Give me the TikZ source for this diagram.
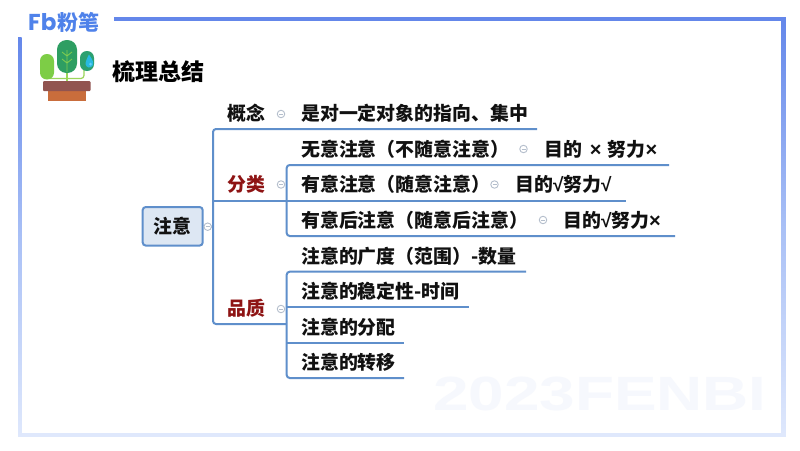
\documentclass[tikz,border=0pt]{standalone}
\usepackage{fontspec}
\setmainfont{Noto Sans CJK SC}
\newfontfamily\wm{Liberation Sans}
\newfontfamily\brand{Poppins}
\definecolor{linec}{HTML}{5F8FCB}
\definecolor{rootfill}{HTML}{DDE7F3}
\definecolor{brandblue}{HTML}{4F82EA}
\definecolor{darkred}{HTML}{8E1414}
\definecolor{ink}{HTML}{111111}
\definecolor{togc}{HTML}{B4BECC}
\definecolor{fa}{HTML}{6487EA}
\definecolor{fb}{HTML}{A9C0F6}
\definecolor{fc}{HTML}{DFE8FC}
\definecolor{wmc}{HTML}{F6F8FD}
\definecolor{stem}{HTML}{9BD65A}
\tikzset{
 x=1pt,y=-1pt,
 branch/.style={draw=linec,line width=2pt,rounded corners=3pt},
 lbl/.style={font=\fontsize{18.9}{20}\selectfont\bfseries,text=ink,anchor=west,inner sep=0pt},
 cat/.style={lbl,anchor=center},
 catred/.style={cat,text=darkred},
 tog/.style={circle,draw=togc,fill=white,line width=0.9pt,minimum size=7.5pt,inner sep=0pt},
 rootbox/.style={draw=linec,fill=rootfill,line width=2pt,rounded corners=3pt,minimum width=60pt,minimum height=38.5pt,
   font=\fontsize{18.9}{20}\selectfont\bfseries,text=ink,inner sep=0pt},
}
\newcommand{\togmark}[1]{\draw[togc,line width=0.7pt] ([xshift=-2pt]#1.center)--([xshift=2pt]#1.center);}
\newcommand{\ck}{{\wm\bfseries\fontsize{19}{19}\selectfont √}}
\newcommand{\xx}{{\wm\bfseries\fontsize{20}{20}\selectfont ×}}
\begin{document}
\begin{tikzpicture}
\useasboundingbox (0,0) rectangle (800,450);
\fill[white] (0,0) rectangle (800,450);
% watermark
\node[font=\wm\bfseries\fontsize{48}{48}\selectfont,text=wmc,inner sep=0pt,xscale=1.33,transform shape] (wmark) at (600,394) {2023FENBI};
% frame
\fill[fa] (114,17) rectangle (785.7,20.7);
\shade[top color=fa,bottom color=fc,middle color=fb] (781.7,17) rectangle (785.7,436.7);
\fill[fc] (18,433) rectangle (785.7,436.7);
\shade[top color=fa,bottom color=fc,middle color=fb] (18,37) rectangle (21.7,436.7);
% brand
\node[font=\brand\bfseries\fontsize{23}{23}\selectfont,text=brandblue,inner sep=0pt,anchor=west] (fbmark) at (28,22) {Fb};
\node[font=\fontsize{21}{21}\selectfont\bfseries,text=brandblue,inner sep=0pt,anchor=west] (fbname) at (57,22) {粉笔};
% plant
\draw[line width=1.2pt,draw=stem,rounded corners=3pt] (47,74) -- (47,78.5) -- (84,78.5) -- (84,70);
\draw[line width=1.2pt,draw=stem] (67,60) -- (67,82);
\fill[fill={rgb,255:red,46;green,158;blue,98},rounded corners=9.5pt] (57,40) rectangle (77,73);
\draw[line width=0.8pt,draw={rgb,255:red,130;green,205;blue,80}] (67,50) -- (67,72) (67,56) -- (62,52) (67,56) -- (72,52) (67,63) -- (62,59) (67,63) -- (72,59);
\fill[fill={rgb,255:red,125;green,205;blue,70},rounded corners=6.8pt] (40,54) rectangle (54,79.5);
\fill[fill={rgb,255:red,44;green,160;blue,112},rounded corners=6.8pt] (80,51) rectangle (94,71);
\fill[fill={rgb,255:red,40;green,185;blue,225}] (89,54.5) .. controls (92,59) and (94,62) .. (93,65) .. controls (91,69) and (86,68) .. (85.5,64) .. controls (85.5,62) and (87,58) .. (89,54.5) -- cycle;
\fill[white!40!cyan] (90.5,64) circle [radius=1.5pt];
\fill[fill={rgb,255:red,201;green,109;blue,60}] (47.5,91) rectangle (86,100.5);
\fill[fill={rgb,255:red,145;green,84;blue,80},rounded corners=1pt] (43,81) rectangle (90.5,91);
% title
\node[font=\fontsize{23}{25}\selectfont\bfseries,text=black,anchor=west,inner sep=0pt] (title) at (112,72) {梳理总结};
% coordinates
\coordinate (s1) at (213,129);
\coordinate (s1e) at (537,129);
\coordinate (j1) at (213,200.7);
\coordinate (j0) at (213,226.7);
\coordinate (s2) at (213,324);
\coordinate (k2) at (286.7,324);
\coordinate (a) at (286.7,165);
\coordinate (ae) at (669,165);
\coordinate (b) at (286.7,200.7);
\coordinate (be) at (626,200.7);
\coordinate (c) at (286.7,236);
\coordinate (ce) at (675,236);
\coordinate (d) at (286.7,271.7);
\coordinate (de) at (526,271.7);
\coordinate (e) at (286.7,306.7);
\coordinate (ee) at (469,306.7);
\coordinate (f) at (286.7,342.7);
\coordinate (fe) at (404,342.7);
\coordinate (g) at (286.7,378);
\coordinate (ge) at (404,378);
% root
\node[rootbox] (root) at (172.7,226.3) {注意};
% connectors
\path[branch] (root.east) -- (j0);
\path[branch] (s1e) -- (s1) -- (s2) -- (k2);
\path[branch] (j1) -- (be);
\path[branch] (ae) -- (a) -- (c) -- (ce);
\path[branch] (de) -- (d) -- (g) -- (ge);
\path[branch] (e) -- (ee);
\path[branch] (f) -- (fe);
% labels
\node[cat] (gn) at (246.5,113) {概念};
\node[catred] (fl) at (246.5,184.5) {分类};
\node[catred] (pz) at (246.5,308.5) {品质};
\node[lbl] (t1) at (301,113.5) {是对一定对象的指向、集中};
\node[lbl] (t2) at (301,149) {无意注意（不随意注意）};
\node[lbl] (t3) at (301,184.5) {有意注意（随意注意）};
\node[lbl] (t4) at (301,220) {有意后注意（随意后注意）};
\node[lbl] (t5) at (301,256) {注意的广度（范围）-数量};
\node[lbl] (t6) at (301,291) {注意的稳定性-时间};
\node[lbl] (t7) at (301,327) {注意的分配};
\node[lbl] (t8) at (301,362.5) {注意的转移};
\node[lbl] (r1) at (544.5,149) {目的 \hspace{3pt}\xx\hspace{2pt} 努力\xx};
\node[lbl] (r2) at (515,184.5) {目的\ck{}努力\ck};
\node[lbl] (r3) at (563,220) {目的\ck{}努力\xx};
% toggles
\foreach \n/\x/\y in {q1/281/114,q2/281/184.5,q3/207.7/226.7,q4/281/309,q5/523.5/149,q6/494.5/184.5,q7/543/220}{
  \node[tog] (\n) at (\x,\y) {};
  \togmark{\n}
}
\end{tikzpicture}
\end{document}
